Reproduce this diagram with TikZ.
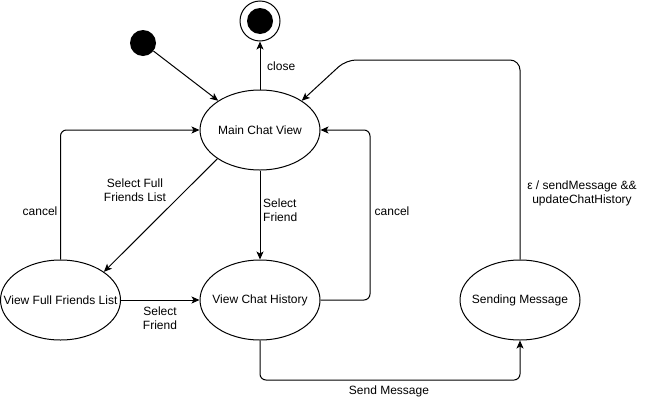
\documentclass[tikz,border=0pt]{standalone}
\usepackage{fontspec}
\setmainfont{Liberation Sans}
\usetikzlibrary{arrows.meta, positioning, shapes.geometric}

% keep the ellipse size fixed whatever the text width
\newcommand{\statename}[1]{\makebox[0pt]{#1}}

\tikzset{
  state/.style={draw, ellipse, line width=1pt, minimum width=120pt, minimum height=80pt, inner sep=0pt},
  lbl/.style={inner sep=0pt, align=center, font=\fontsize{12}{14}\selectfont},
  trans/.style={line width=1pt, -{Stealth[length=8pt, width=7pt, inset=2pt]}},
}

\begin{document}
\begin{tikzpicture}[x=1pt, y=-1pt, font=\fontsize{12}{14}\selectfont]
  \useasboundingbox (0,0) rectangle (655,402);

  % States
  \node[state] (main) at (260,130) {\statename{Main Chat View}};
  \node[state] (fulllist) at (60.5,300) {\statename{View Full Friends List}};
  \node[state] (history) at (260,300) {\statename{View Chat History}};
  \node[state] (sending) at (520,300) {\statename{Sending Message}};

  % Initial and final pseudo states
  \node[circle, fill=black, minimum size=26pt, inner sep=0pt] (init) at (143,43) {};
  \node[circle, draw, line width=1pt, minimum size=40pt, inner sep=0pt] (final) at (260,21) {};
  \node[circle, fill=black, minimum size=26pt, inner sep=0pt] (finaldot) at (final) {};

  % Transitions
  \draw[trans] (init) -- (main.145);
  \draw[trans] (main.north) -- (final.south);
  \draw[trans] (main.214) -- (fulllist.33);
  \draw[trans] (main.south) -- (history.north);
  \draw[trans] (fulllist.east) -- (history.west);
  \draw[trans, rounded corners=6pt] (fulllist.north) |- (main.west);
  \draw[trans, rounded corners=6pt] (history.east) -- (370,300) -- (370,130) -- (main.east);
  \draw[trans, rounded corners=6pt] (history.south) -- (260,380) -- (520,380) -- (sending.south);
  \draw[trans, rounded corners=10pt] (sending.north) -- (520,60) -- (346,60) -- (main.35);

  % Labels
  \node[lbl, anchor=west] (closelbl) at (267,66) {close};
  \node[lbl] (fulllbl) at (135,190) {Select Full\\Friends List};
  \node[lbl, anchor=west, align=left] (friendlbl) at (263,210) {Select\\Friend};
  \node[lbl] (friendlbl2) at (160,318) {Select\\Friend};
  \node[lbl] (cancellbl) at (40,211) {cancel};
  \node[lbl] (cancellbl2) at (392,211) {cancel};
  \node[lbl] (sendlbl) at (389,391) {Send Message};
  \node[lbl] (epslbl) at (582,193) {ε / sendMessage \&\&\\updateChatHistory};
\end{tikzpicture}
\end{document}
